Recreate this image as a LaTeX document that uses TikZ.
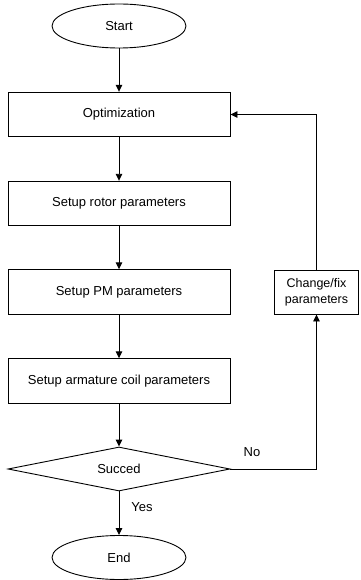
\documentclass[tikz,border=0pt]{standalone}
\usepackage{fontspec}
\setmainfont{Liberation Sans}
\usetikzlibrary{arrows.meta,shapes.geometric}
\begin{document}
\begin{tikzpicture}[x=1pt,y=-1pt,
  every node/.style={font=\fontsize{13}{15.5}\selectfont},
  box/.style={draw,line width=0.9pt,minimum width=222pt,minimum height=44.5pt,inner sep=0pt},
  term/.style={draw,ellipse,line width=0.9pt,minimum width=134pt,minimum height=44pt,inner sep=0pt},
  dec/.style={draw,diamond,line width=0.9pt,minimum width=222pt,minimum height=44pt,inner sep=0pt,aspect=5},
  arr/.style={-{Triangle[length=7pt,width=6.5pt]},line width=0.9pt},
  lbl/.style={inner sep=0pt}]
\useasboundingbox (0,0) rectangle (360,580);
\node[term] (start) at (119,26) {Start};
\node[box] (opt) at (119,114.5) {Optimization};
\node[box] (rotor) at (119,203.5) {Setup rotor parameters};
\node[box] (pm) at (119,292) {Setup PM parameters};
\node[box] (arm) at (119,381) {Setup armature coil parameters};
\node[draw,line width=0.9pt,minimum width=84pt,minimum height=44pt,inner sep=0pt,align=center,font=\fontsize{12.5}{16}\selectfont] (chg) at (316.5,292) {Change/fix\\parameters};
\node[dec] (dec) at (119,469) {Succed};
\node[term] (end) at (119,557.5) {End};
\coordinate (c1) at (chg.south |- dec.east);
\coordinate (c2) at (chg.north |- opt.east);
\draw[arr] (start) -- (opt);
\draw[arr] (opt) -- (rotor);
\draw[arr] (rotor) -- (pm);
\draw[arr] (pm) -- (arm);
\draw[arr] (arm) -- (dec);
\draw[arr] (dec) -- (end);
\draw[arr] (dec.east) -- (c1) -- (chg.south);
\draw[arr] (chg.north) -- (c2) -- (opt.east);
\node[lbl] (no) at (252,452) {No};
\node[lbl] (yes) at (142,507) {Yes};
\end{tikzpicture}
\end{document}
